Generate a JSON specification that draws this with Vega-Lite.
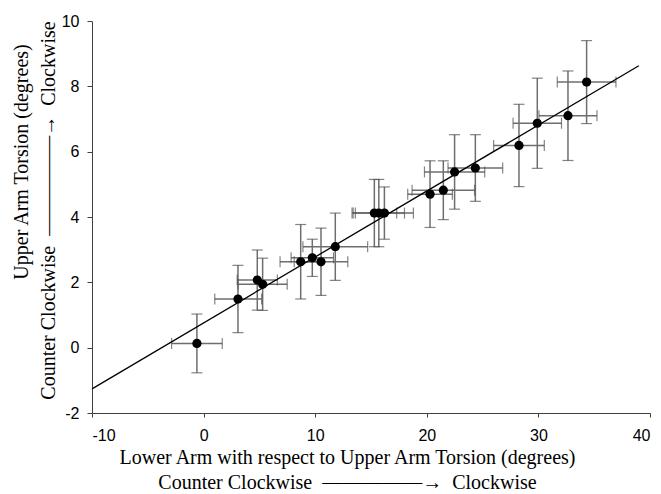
{
  "$schema": "https://vega.github.io/schema/vega-lite/v6.json",
  "autosize": "none",
  "width": 558,
  "height": 392,
  "padding": {"left": 92, "top": 21, "right": 11, "bottom": 81},
  "background": "white",
  "title": {"text": "Upper Arm Torsion (degrees)", "orient": "left", "anchor": "middle", "frame": "group", "offset": 6, "dx": 55, "font": "Liberation Serif", "fontSize": 20, "fontWeight": "normal", "color": "black"},
  "config": {
    "view": {"stroke": null},
    "axis": {"grid": false, "labelFont": "Liberation Sans", "labelFontSize": 16, "labelColor": "black", "titleFont": "Liberation Serif", "titleFontSize": 20, "titleFontWeight": "normal", "titleColor": "black", "domainColor": "#404040", "tickColor": "#404040", "tickSize": 5, "labelPadding": 8,
      "labelExpr": "datum.value < 0 ? '-' + abs(datum.value) : '' + datum.value"}
  },
  "datasets": {
    "pts": [
      {"x": -0.6, "y": 0.13, "xlo": -2.87, "xhi": 1.67, "ylo": -0.77, "yhi": 1.03},
      {"x": 3.08, "y": 1.49, "xlo": 1.0, "xhi": 5.2, "ylo": 0.46, "yhi": 2.52},
      {"x": 4.81, "y": 2.07, "xlo": 3.01, "xhi": 6.61, "ylo": 1.15, "yhi": 2.99},
      {"x": 5.29, "y": 1.94, "xlo": 3.09, "xhi": 7.49, "ylo": 1.14, "yhi": 2.74},
      {"x": 8.7, "y": 2.63, "xlo": 6.85, "xhi": 10.55, "ylo": 1.49, "yhi": 3.77},
      {"x": 9.74, "y": 2.75, "xlo": 7.84, "xhi": 11.64, "ylo": 2.18, "yhi": 3.32},
      {"x": 10.52, "y": 2.63, "xlo": 8.12, "xhi": 12.92, "ylo": 1.6, "yhi": 3.66},
      {"x": 11.8, "y": 3.09, "xlo": 8.9, "xhi": 14.7, "ylo": 2.06, "yhi": 4.12},
      {"x": 15.3, "y": 4.12, "xlo": 13.3, "xhi": 17.3, "ylo": 3.09, "yhi": 5.15},
      {"x": 15.7, "y": 4.12, "xlo": 13.4, "xhi": 18.0, "ylo": 3.09, "yhi": 5.15},
      {"x": 16.2, "y": 4.12, "xlo": 13.6, "xhi": 18.8, "ylo": 3.32, "yhi": 4.92},
      {"x": 20.29, "y": 4.7, "xlo": 18.29, "xhi": 22.29, "ylo": 3.68, "yhi": 5.72},
      {"x": 21.48, "y": 4.82, "xlo": 18.68, "xhi": 24.28, "ylo": 3.92, "yhi": 5.72},
      {"x": 22.49, "y": 5.38, "xlo": 19.79, "xhi": 25.19, "ylo": 4.24, "yhi": 6.52},
      {"x": 24.35, "y": 5.5, "xlo": 21.9, "xhi": 26.8, "ylo": 4.48, "yhi": 6.52},
      {"x": 28.26, "y": 6.19, "xlo": 25.99, "xhi": 30.53, "ylo": 4.93, "yhi": 7.45},
      {"x": 29.9, "y": 6.87, "xlo": 27.73, "xhi": 32.07, "ylo": 5.49, "yhi": 8.25},
      {"x": 32.65, "y": 7.1, "xlo": 30.05, "xhi": 35.25, "ylo": 5.73, "yhi": 8.47},
      {"x": 34.32, "y": 8.13, "xlo": 31.69, "xhi": 36.95, "ylo": 6.86, "yhi": 9.4}
    ],
    "fit": [
      {"x": -10, "y": -1.26},
      {"x": 39, "y": 8.63}
    ]
  },
  "layer": [
    {
      "data": {"name": "pts"},
      "mark": {"type": "rule", "color": "#6e6e6e", "strokeWidth": 1.5},
      "encoding": {
        "x": {"field": "xlo", "type": "quantitative",
          "scale": {"domain": [-10, 40], "nice": false, "zero": false},
          "axis": {"values": [-10, 0, 10, 20, 30, 40], "tickSize": 4, "labelPadding": 10,
            "title": ["Lower Arm with respect to Upper Arm Torsion (degrees)", "Counter Clockwise\u00a0\u00a0—————→\u00a0\u00a0Clockwise"],
            "titleLineHeight": 25, "titleX": 255, "titleY": 50, "titleBaseline": "alphabetic", "titleAlign": "center", "titleAnchor": null}},
        "x2": {"field": "xhi"},
        "y": {"field": "y", "type": "quantitative",
          "scale": {"domain": [-2, 10], "nice": false, "zero": false},
          "axis": {"values": [-2, 0, 2, 4, 6, 8, 10], "tickSize": 5, "labelPadding": 8,
            "title": "Counter Clockwise\u00a0\u00a0—————→\u00a0\u00a0Clockwise",
            "titleAngle": 270, "titleX": -38, "titleY": 189, "titleBaseline": "alphabetic", "titleAlign": "center", "titleAnchor": null}}
      }
    },
    {
      "data": {"name": "pts"},
      "mark": {"type": "rule", "color": "#6e6e6e", "strokeWidth": 1.5},
      "encoding": {
        "x": {"field": "x", "type": "quantitative"},
        "y": {"field": "ylo", "type": "quantitative"},
        "y2": {"field": "yhi"}
      }
    },
    {
      "data": {"name": "pts"},
      "mark": {"type": "tick", "orient": "vertical", "color": "#505050", "size": 11, "thickness": 1.2},
      "encoding": {
        "x": {"field": "xlo", "type": "quantitative"},
        "y": {"field": "y", "type": "quantitative"}
      }
    },
    {
      "data": {"name": "pts"},
      "mark": {"type": "tick", "orient": "vertical", "color": "#505050", "size": 11, "thickness": 1.2},
      "encoding": {
        "x": {"field": "xhi", "type": "quantitative"},
        "y": {"field": "y", "type": "quantitative"}
      }
    },
    {
      "data": {"name": "pts"},
      "mark": {"type": "tick", "orient": "horizontal", "color": "#505050", "size": 11, "thickness": 1.2},
      "encoding": {
        "x": {"field": "x", "type": "quantitative"},
        "y": {"field": "ylo", "type": "quantitative"}
      }
    },
    {
      "data": {"name": "pts"},
      "mark": {"type": "tick", "orient": "horizontal", "color": "#505050", "size": 11, "thickness": 1.2},
      "encoding": {
        "x": {"field": "x", "type": "quantitative"},
        "y": {"field": "yhi", "type": "quantitative"}
      }
    },
    {
      "data": {"name": "fit"},
      "mark": {"type": "line", "color": "black", "strokeWidth": 1.3},
      "encoding": {
        "x": {"field": "x", "type": "quantitative"},
        "y": {"field": "y", "type": "quantitative"}
      }
    },
    {
      "data": {"name": "pts"},
      "mark": {"type": "point", "filled": true, "color": "black", "size": 85, "opacity": 1},
      "encoding": {
        "x": {"field": "x", "type": "quantitative"},
        "y": {"field": "y", "type": "quantitative"}
      }
    }
  ]
}
